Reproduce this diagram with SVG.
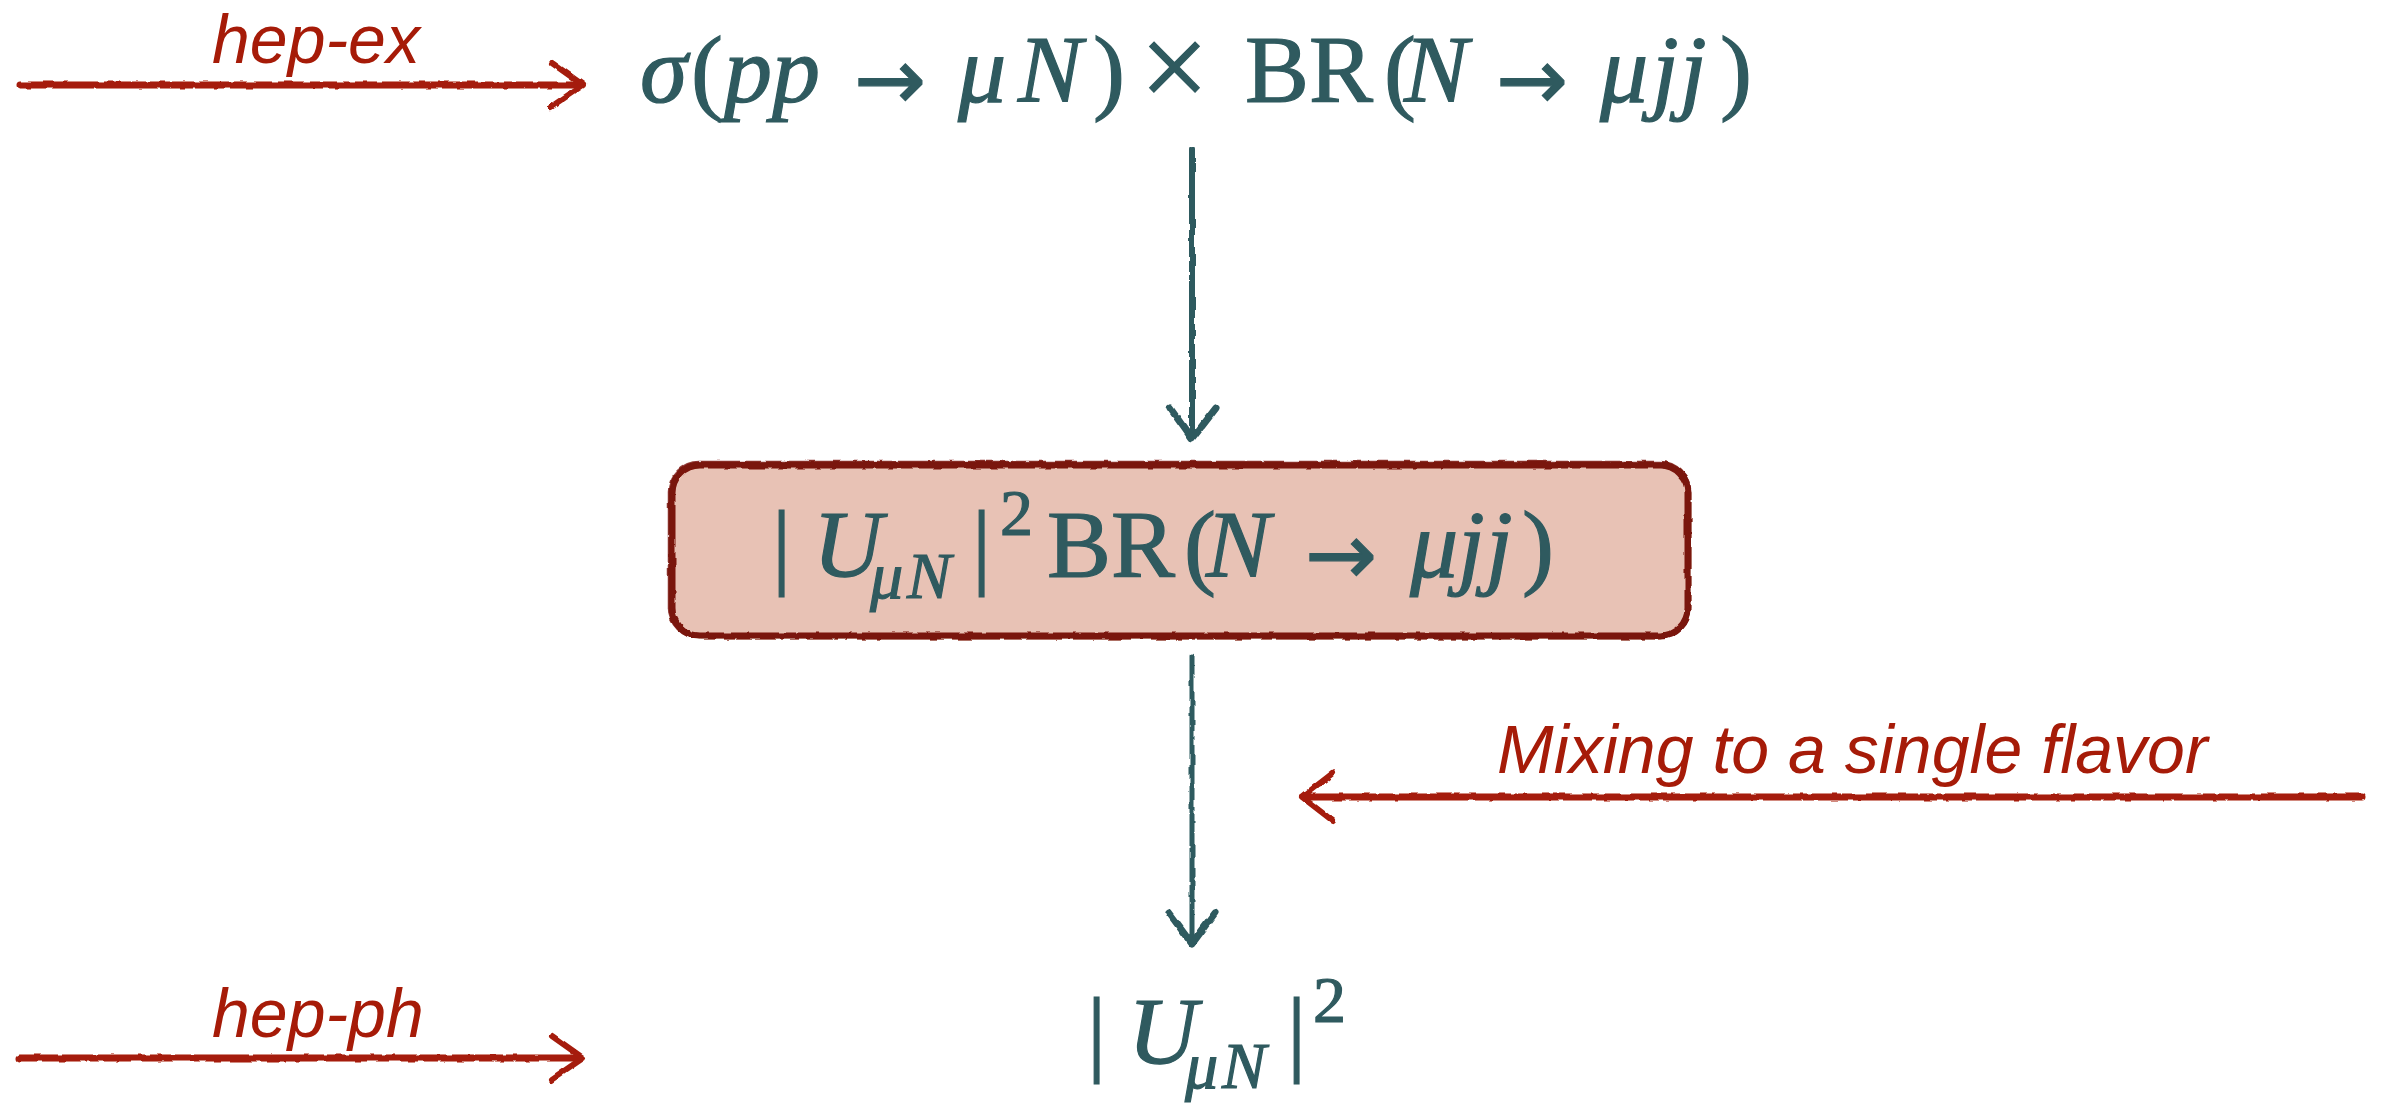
<svg xmlns="http://www.w3.org/2000/svg" width="2386" height="1105" viewBox="0 0 2386 1105">
<defs>
<filter id="rough" filterUnits="userSpaceOnUse" x="0" y="0" width="2386" height="1105">
<feTurbulence type="fractalNoise" baseFrequency="0.09" numOctaves="2" seed="4" result="n"/>
<feDisplacementMap in="SourceGraphic" in2="n" scale="3.5" xChannelSelector="R" yChannelSelector="G"/>
</filter>
</defs>
<style>
.m{font-family:"Liberation Serif","DejaVu Serif",serif;font-size:96px;fill:#2f5a5f;stroke:#2f5a5f;stroke-width:1.2}
.i{font-style:italic}
.s{font-size:66px}
.x{font-size:122px}
.ar{font-family:"DejaVu Sans",sans-serif;font-size:86px}
.lbl{font-family:"Liberation Sans",Arial,sans-serif;font-style:italic;font-size:68px;fill:#a61b08}
.red{stroke:#a51c0a;fill:none;stroke-linecap:round;stroke-linejoin:round}
.teal{stroke:#2f5a5f;fill:none;stroke-linecap:round;stroke-linejoin:round}
</style>
<rect width="2386" height="1105" fill="#ffffff"/>

<g id="connectors">
  <g filter="url(#rough)">
    <path class="red" d="M20 85 L578 85" stroke-width="7"/>
    <path class="red" d="M552 63 L583 85 L551 107" stroke-width="6"/>
    <path class="red" d="M20 1058 L578 1058" stroke-width="7"/>
    <path class="red" d="M552 1036 L583 1058 L551 1080" stroke-width="6"/>
    <path class="red" d="M2362 797 L1306 797" stroke-width="7"/>
    <path class="red" d="M1333 773 L1302 797 L1333 821" stroke-width="6"/>
    <path class="teal" d="M1192 150 L1192 437" stroke-width="6"/>
    <path class="teal" d="M1170 408 L1192 439 L1216 408" stroke-width="7"/>
    <path class="teal" d="M1192 656 L1192 942" stroke-width="5"/>
    <path class="teal" d="M1169 913 L1192 944 L1215 913" stroke-width="7"/>
  </g>
</g>

<g id="label-hep-ex"><text class="lbl" x="212" y="63">hep-ex</text></g>
<g id="label-hep-ph"><text class="lbl" x="212" y="1037">hep-ph</text></g>
<g id="label-mixing"><text class="lbl" x="1497" y="773">Mixing to a single flavor</text></g>

<g id="node-sigma">
  <text class="m" y="102"><tspan class="i" x="640">σ</tspan><tspan x="691">(</tspan><tspan class="i" x="724">pp</tspan><tspan class="ar" x="854" y="109">→</tspan><tspan class="i" x="958" y="102">μ</tspan><tspan class="i" x="1018">N</tspan><tspan x="1093">)</tspan><tspan class="x" x="1140" y="108">×</tspan><tspan x="1245" y="102">BR</tspan><tspan x="1384">(</tspan><tspan class="i" x="1404">N</tspan><tspan class="ar" x="1496" y="109">→</tspan><tspan class="i" x="1600" y="102">μ</tspan><tspan class="i" x="1652">j</tspan><tspan class="i" x="1680">j</tspan><tspan x="1720">)</tspan></text>
</g>

<g id="node-box">
  <g filter="url(#rough)">
    <rect x="672" y="465" width="1016" height="171" rx="28" fill="#e8c2b5" stroke="#7a140b" stroke-width="7"/>
    <rect x="669" y="462" width="1021" height="176" rx="30" fill="none" stroke="#7a140b" stroke-width="2.5" opacity="0.8"/>
  </g>
  <text class="m" y="577"><tspan x="772">|</tspan><tspan class="i" x="813">U</tspan><tspan class="i s" x="870" y="598">μ</tspan><tspan class="i s" x="907" y="598">N</tspan><tspan x="972" y="577">|</tspan><tspan class="s" x="1000" y="535">2</tspan><tspan x="1047" y="577">BR</tspan><tspan x="1184">(</tspan><tspan class="i" x="1206">N</tspan><tspan class="ar" x="1305" y="584">→</tspan><tspan class="i" x="1410" y="577">μ</tspan><tspan class="i" x="1458">j</tspan><tspan class="i" x="1486">j</tspan><tspan x="1522">)</tspan></text>
</g>

<g id="node-u">
  <text class="m" y="1064"><tspan x="1087">|</tspan><tspan class="i" x="1128">U</tspan><tspan class="i s" x="1185" y="1088">μ</tspan><tspan class="i s" x="1222" y="1088">N</tspan><tspan x="1287" y="1064">|</tspan><tspan class="s" x="1313" y="1022">2</tspan></text>
</g>
</svg>
